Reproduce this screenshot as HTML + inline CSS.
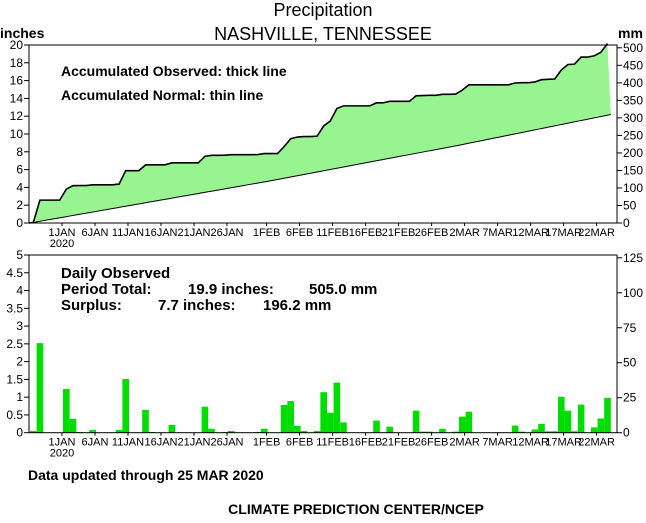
<!DOCTYPE html>
<html><head><meta charset="utf-8"><style>
body{margin:0;background:#fff;}
svg text{font-family:"Liberation Sans",sans-serif;fill:#000;}
</style></head><body>
<svg id="chart" width="646" height="518" xmlns="http://www.w3.org/2000/svg">
<text x="323" y="16" font-size="18" text-anchor="middle">Precipitation</text>
<text x="323" y="40" font-size="18" text-anchor="middle">NASHVILLE, TENNESSEE</text>
<text x="0" y="38" font-size="14" font-weight="bold">inches</text>
<text x="618" y="38" font-size="14" font-weight="bold">mm</text>
<g id="gtop"></g>
<g id="gbot"></g>
<text x="61" y="76" font-size="14" font-weight="bold">Accumulated Observed: thick line</text>
<text x="61" y="100" font-size="14" font-weight="bold">Accumulated Normal: thin line</text>
<text x="61" y="278" font-size="15" font-weight="bold">Daily Observed</text>
<text y="294" font-size="15" font-weight="bold"><tspan x="61">Period Total:</tspan><tspan x="188">19.9 inches:</tspan><tspan x="309">505.0 mm</tspan></text>
<text y="310" font-size="15" font-weight="bold"><tspan x="61">Surplus:</tspan><tspan x="158">7.7 inches:</tspan><tspan x="263">196.2 mm</tspan></text>
<text x="28" y="480" font-size="14" font-weight="bold">Data updated through 25 MAR 2020</text>
<text x="356" y="514" font-size="14" font-weight="bold" text-anchor="middle">CLIMATE PREDICTION CENTER/NCEP</text>
</svg>
<script>
const dailyObs=[0.05,2.52,0,0,0,1.23,0.39,0.02,0,0.08,0,0,0,0.08,1.51,0,0,0.64,0.02,0,0,0.22,0,0,0,0,0.73,0.11,0,0.02,0.05,0,0,0,0.02,0.11,0,0,0.78,0.89,0.19,0.05,0,0.05,1.14,0.56,1.41,0.29,0,0,0,0,0.34,0,0.17,0,0,0,0.62,0.03,0.03,0,0.11,0,0.03,0.45,0.59,0,0,0,0,0,0,0.2,0.03,0,0.09,0.25,0.04,0.04,1.01,0.62,0.04,0.79,0,0.15,0.4,0.98];
const normalDaily=[0.13,0.13,0.13,0.13,0.13,0.13,0.13,0.13,0.13,0.13,0.13,0.13,0.13,0.13,0.13,0.13,0.13,0.13,0.13,0.13,0.13,0.13,0.13,0.13,0.13,0.13,0.13,0.13,0.13,0.13,0.13,0.13,0.13,0.13,0.13,0.13,0.14,0.14,0.14,0.14,0.14,0.14,0.14,0.14,0.14,0.14,0.14,0.14,0.14,0.14,0.14,0.14,0.14,0.14,0.14,0.14,0.14,0.14,0.14,0.14,0.14,0.14,0.14,0.14,0.14,0.15,0.15,0.15,0.15,0.15,0.15,0.15,0.15,0.15,0.15,0.15,0.15,0.15,0.15,0.15,0.15,0.15,0.15,0.15,0.15,0.15,0.15,0.15];
const dateLabels=["1JAN","6JAN","11JAN","16JAN","21JAN","26JAN","1FEB","6FEB","11FEB","16FEB","21FEB","26FEB","2MAR","7MAR","12MAR","17MAR","22MAR"];
const dateDays=[5,10,15,20,25,30,36,41,46,51,56,61,66,71,76,81,86];
const topTicksIn=[0,2,4,6,8,10,12,14,16,18,20];
const topTicksMm=[0,50,100,150,200,250,300,350,400,450,500];
const botTicksIn=[0,0.5,1,1.5,2,2.5,3,3.5,4,4.5,5];
const botTicksMm=[0,25,50,75,100,125];
const NS="http://www.w3.org/2000/svg";
const X0=29,X1=617,DAY=6.6,BX=30;
const xd=d=>BX+d*DAY;
const yTop=v=>223-v/20*178;
const yBot=v=>432.7-v/5*177.7;
function mk(p,tag,at){const e=document.createElementNS(NS,tag);for(const k in at)e.setAttribute(k,at[k]);p.appendChild(e);return e;}
const gTop=document.getElementById('gtop'),gBot=document.getElementById('gbot');
let co=[],cn=[],a=0,b=0;
for(let i=0;i<dailyObs.length;i++){a+=dailyObs[i];b+=normalDaily[i];co.push(a);cn.push(b);}
const obsPts=[[X0,yTop(0)]].concat(co.map((v,i)=>[xd(i+0.5),yTop(v)]));
const nrmPts=[[xd(0.5),yTop(0)]].concat(cn.map((v,i)=>[xd(i+1),yTop(v)]));
const fillPts=obsPts.concat(nrmPts.slice().reverse());
const fill=mk(gTop,'polygon',{points:fillPts.map(p=>p.join(',')).join(' '),fill:'#98f490',stroke:'none'});


const ln=mk(gTop,'polyline',{points:nrmPts.map(p=>p.join(',')).join(' '),fill:'none',stroke:'#000','stroke-width':1});


const lo=mk(gTop,'polyline',{points:obsPts.map(p=>p.join(',')).join(' '),fill:'none',stroke:'#000','stroke-width':1.6});


dailyObs.forEach((v,i)=>{if(v<=0)return;const r=mk(gBot,'rect',{x:xd(i),y:yBot(v),width:DAY,height:432.7-yBot(v),fill:'#00dd00'});

});
function frame(g,yt,yb,name){const f=mk(g,'rect',{x:X0,y:yt,width:X1-X0,height:yb-yt,fill:'none',stroke:'#000','stroke-width':1});

}
frame(gTop,45,223,'top-plot-frame');frame(gBot,255,432.7,'bottom-plot-frame');
function yaxis(g,ticks,fn,left,name){ticks.forEach(t=>{const y=fn(t);
mk(g,'line',{x1:left?X0-5:X1,x2:left?X0:X1+5,y1:y,y2:y,stroke:'#000'});
const tx=mk(g,'text',{x:left?X0-6:X1+6,y:y+4,'font-size':12,'text-anchor':left?'end':'start'});tx.textContent=t;

});}
yaxis(gTop,topTicksIn,yTop,true,'top-left-tick');
yaxis(gTop,topTicksMm,v=>yTop(v/25.4),false,'top-right-tick');
yaxis(gBot,botTicksIn,yBot,true,'bottom-left-tick');
yaxis(gBot,botTicksMm,v=>yBot(v/25.4),false,'bottom-right-tick');
function xaxis(g,yb,name){dateDays.forEach((d,i)=>{const x=xd(d)-1;
mk(g,'line',{x1:x,x2:x,y1:yb,y2:yb+3,stroke:'#000'});
const t=mk(g,'text',{x:x,y:yb+13,'font-size':11,'text-anchor':'middle'});t.textContent=dateLabels[i];


if(i===0){const y2=mk(g,'text',{x:x,y:yb+24,'font-size':11,'text-anchor':'middle'});y2.textContent='2020';

}});}
xaxis(gTop,223,'top-date-label');xaxis(gBot,432.7,'bottom-date-label');
</script>
</body></html>
